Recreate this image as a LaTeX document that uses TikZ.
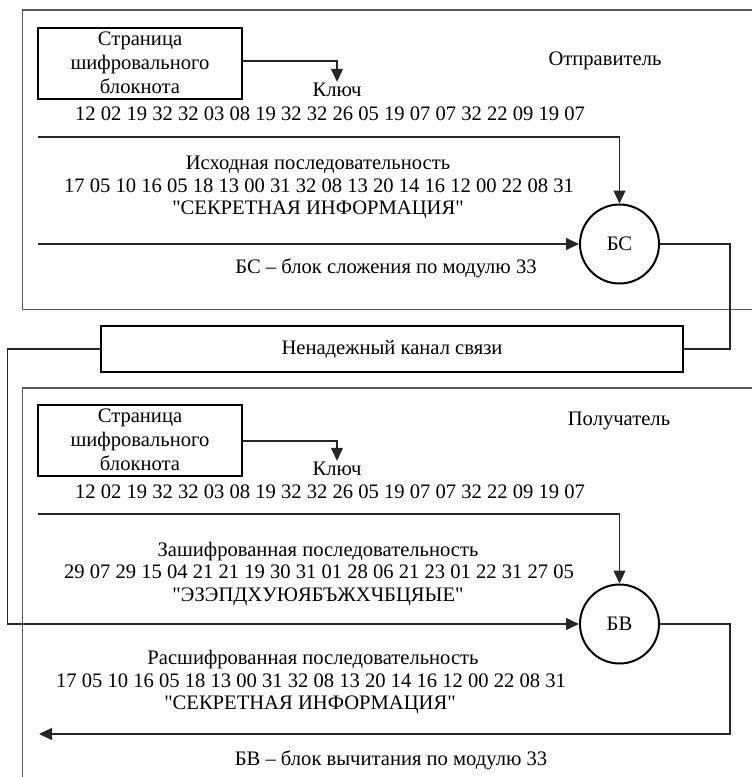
\documentclass[tikz,border=0pt]{standalone}
\usepackage{fontspec}
% no TeX input mapping, so " stays a straight quote
\setmainfont{Liberation Serif}[Ligatures=TeXOff]
\usetikzlibrary{arrows.meta}

\begin{document}
\begin{tikzpicture}[x=1pt,y=-1pt,
  txt/.style={inner sep=0pt, text height=14pt, text depth=4pt,
              font=\fontsize{20.6}{24}\selectfont},
  frame/.style={draw=black!65, line width=1.5pt},
  padbox/.style={draw, line width=2pt, minimum width=204pt, minimum height=71pt,
                 align=center, inner sep=0pt, font=\fontsize{20.6}{24}\selectfont},
  chanbox/.style={draw, line width=2pt, minimum width=582pt, minimum height=46pt,
                  inner sep=0pt, font=\fontsize{20.6}{24}\selectfont},
  adder/.style={draw, circle, line width=2pt, minimum size=79pt, inner sep=0pt,
                font=\fontsize{20.6}{24}\selectfont},
  wire/.style={draw=black!85, line width=1.2pt},
  arrowwire/.style={wire, -{Triangle[length=13pt,width=12pt]}}
]
\useasboundingbox (0,0) rectangle (752,777);

% ---------- sender ----------
\draw[frame] (752,10) -- (22.5,10) -- (22.5,309.5) -- (752,309.5);
\node[txt] (sender) at (605,60) {Отправитель};

\node[padbox] (padA) at (140,63) {Страница\\шифровального\\блокнота};
\node[txt] (keyA) at (337,91) {Ключ};
\node[txt] (keynumA) at (330,115) {12 02 19 32 32 03 08 19 32 32 26 05 19 07 07 32 22 09 19 07};

\node[txt] (srcA) at (318,164) {Исходная последовательность};
\node[txt] (srcnumA) at (319,187) {17 05 10 16 05 18 13 00 31 32 08 13 20 14 16 12 00 22 08 31};
\node[txt] (srctxtA) at (318,209) {"СЕКРЕТНАЯ ИНФОРМАЦИЯ"};
\node[txt] (noteA) at (386,268) {БС – блок сложения по модулю 33};

\node[adder] (bs) at (619.5,244) {БС};

\coordinate (keyA0) at (38,137);
\coordinate (srcA0) at (38,244);

\draw[arrowwire] (padA.east |- 0,61) -| (keyA.north);
\draw[arrowwire] (keyA0) -| (bs.north);
\draw[arrowwire] (srcA0) -- (bs.west);

% ---------- channel ----------
\node[chanbox] (chan) at (392,349) {Ненадежный канал связи};
\draw[wire] (bs.east) -- (730,244) |- (chan.east);

% ---------- receiver ----------
\draw[frame] (752,388) -- (22.5,388) -- (22.5,777);
\node[txt] (receiver) at (619,420) {Получатель};

\node[padbox] (padB) at (140,440) {Страница\\шифровального\\блокнота};
\node[txt] (keyB) at (337,470) {Ключ};
\node[txt] (keynumB) at (330,493) {12 02 19 32 32 03 08 19 32 32 26 05 19 07 07 32 22 09 19 07};

\node[txt] (encB) at (318,551) {Зашифрованная последовательность};
\node[txt] (encnumB) at (319,573) {29 07 29 15 04 21 21 19 30 31 01 28 06 21 23 01 22 31 27 05};
\node[txt] (enctxtB) at (318,596) {"ЭЗЭПДХУЮЯБЪЖХЧБЦЯЫЕ"};

\node[adder] (bv) at (619.5,624) {БВ};

\node[txt] (decB) at (313,659) {Расшифрованная последовательность};
\node[txt] (decnumB) at (311,682) {17 05 10 16 05 18 13 00 31 32 08 13 20 14 16 12 00 22 08 31};
\node[txt] (dectxtB) at (310,704) {"СЕКРЕТНАЯ ИНФОРМАЦИЯ"};
\node[txt] (noteB) at (391,760) {БВ – блок вычитания по модулю 33};

\coordinate (keyB0) at (38,514);
\coordinate (outB) at (39,734);

\draw[arrowwire] (padB.east |- 0,441) -| (keyB.north);
\draw[arrowwire] (keyB0) -| (bv.north);
\draw[arrowwire] (chan.west) -- (7.5,349) |- (bv.west);
\draw[arrowwire] (bv.east) -- (730,624) |- (outB);
\end{tikzpicture}
\end{document}
